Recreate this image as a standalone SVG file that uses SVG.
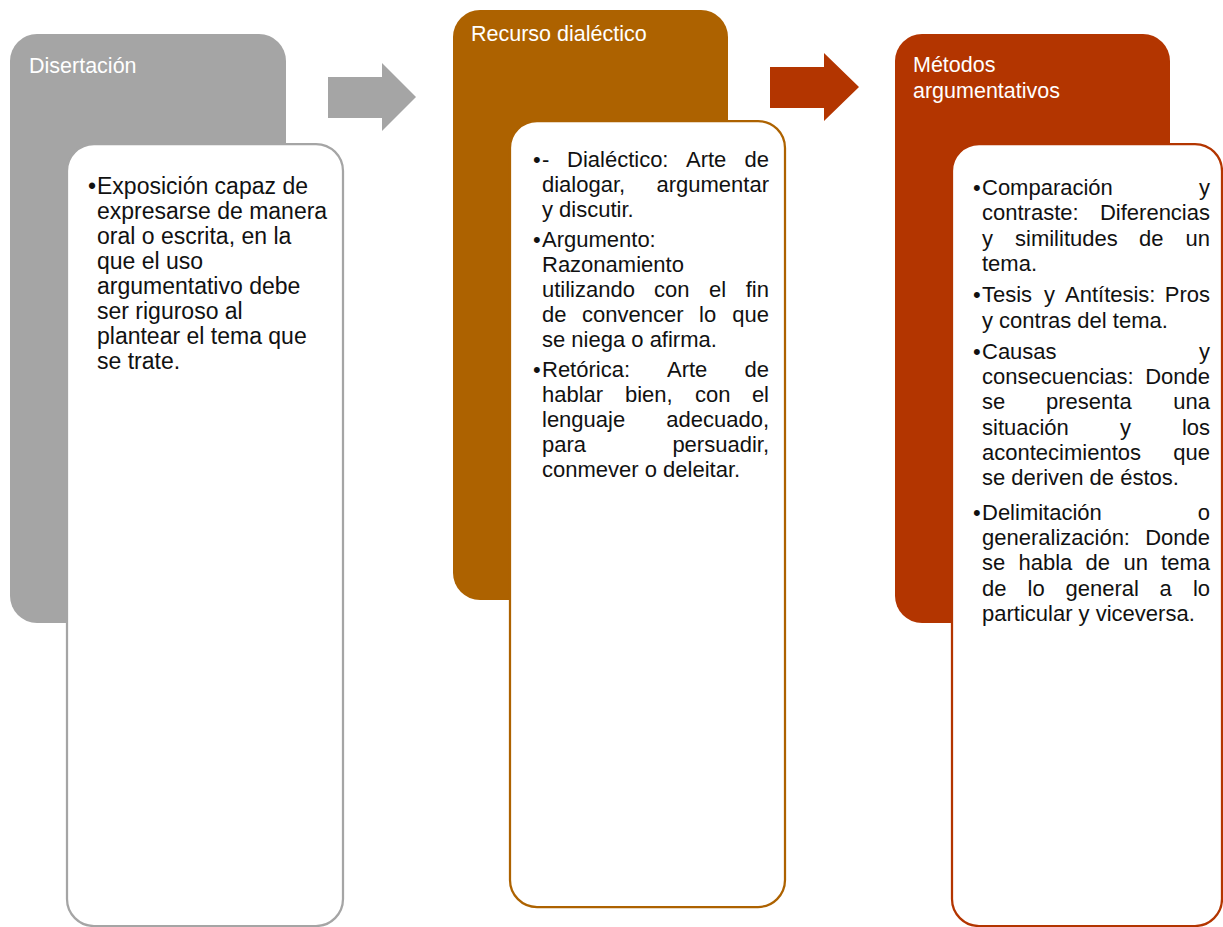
<svg xmlns="http://www.w3.org/2000/svg" width="1223" height="927" viewBox="0 0 1223 927">
<style>
.title{font-family:"Liberation Sans",Arial,sans-serif;font-size:21.5px;fill:#ffffff}
.body{font-family:"Liberation Sans",Arial,sans-serif;font-size:22px;fill:#111111}
.big{font-size:23px}
.e{text-anchor:end}
.inner{fill:#ffffff;stroke-width:2.25}
</style>
<rect width="1223" height="927" fill="#ffffff"/>
<g id="connectors">
<polygon points="328,77 382,77 382,63 416,97 382,131 382,118 328,118" fill="#A5A5A5"/>
<polygon points="770,67 824,67 824,53 859,87 824,121 824,108 770,108" fill="#B33500"/>
</g>
<g id="node-disertacion">
<rect x="10" y="34" width="276" height="589" rx="27" fill="#A5A5A5"/>
<text class="title" x="29" y="73">Disertación</text>
</g>
<g id="node-disertacion-detail">
<rect class="inner" x="67" y="144" width="276" height="782" rx="27" stroke="#A5A5A5"/>
<text class="body big">
<tspan x="88" y="194">•</tspan><tspan x="97" y="194">Exposición capaz de</tspan>
<tspan x="97" y="219">expresarse de manera</tspan>
<tspan x="97" y="244">oral o escrita, en la</tspan>
<tspan x="97" y="269">que el uso</tspan>
<tspan x="97" y="294">argumentativo debe</tspan>
<tspan x="97" y="319">ser riguroso al</tspan>
<tspan x="97" y="344">plantear el tema que</tspan>
<tspan x="97" y="369">se trate.</tspan>
</text>
</g>
<g id="node-recurso">
<rect x="453" y="10" width="275" height="590" rx="27" fill="#AD6200"/>
<text class="title" x="471" y="41">Recurso dialéctico</text>
</g>
<g id="node-recurso-detail">
<rect class="inner" x="510" y="121" width="275" height="786" rx="27" stroke="#AD6200"/>
<g class="body">
<text x="533" y="167">•</text>
<text x="542" y="167">-</text><text x="567" y="167">Dialéctico:</text><text x="686" y="167">Arte</text><text class="e" x="769" y="167">de</text>
<text x="542" y="192">dialogar,</text><text class="e" x="769" y="192">argumentar</text>
<text x="542" y="217">y discutir.</text>
<text x="533" y="247">•</text><text x="542" y="247">Argumento:</text>
<text x="542" y="272">Razonamiento</text>
<text x="542" y="297">utilizando</text><text x="654" y="297">con</text><text x="709" y="297">el</text><text class="e" x="769" y="297">fin</text>
<text x="542" y="322">de</text><text x="582" y="322">convencer</text><text x="699" y="322">lo</text><text class="e" x="769" y="322">que</text>
<text x="542" y="347">se niega o afirma.</text>
<text x="533" y="377">•</text><text x="542" y="377">Retórica:</text><text x="667" y="377">Arte</text><text class="e" x="769" y="377">de</text>
<text x="542" y="402">hablar</text><text x="625" y="402">bien,</text><text x="695" y="402">con</text><text class="e" x="769" y="402">el</text>
<text x="542" y="427">lenguaje</text><text class="e" x="769" y="427">adecuado,</text>
<text x="542" y="452">para</text><text class="e" x="769" y="452">persuadir,</text>
<text x="542" y="477">conmever o deleitar.</text>
</g>
</g>
<g id="node-metodos">
<rect x="895" y="34" width="275" height="589" rx="27" fill="#B33500"/>
<text class="title" x="913" y="72">Métodos</text>
<text class="title" x="913" y="98">argumentativos</text>
</g>
<g id="node-metodos-detail">
<rect class="inner" x="952" y="144" width="270" height="782" rx="27" stroke="#B33500"/>
<g class="body">
<text x="973" y="195">•</text><text x="982" y="195">Comparación</text><text class="e" x="1210" y="195">y</text>
<text x="982" y="220.3">contraste:</text><text class="e" x="1210" y="220.3">Diferencias</text>
<text x="982" y="245.6">y</text><text x="1015" y="245.6">similitudes</text><text x="1139" y="245.6">de</text><text class="e" x="1210" y="245.6">un</text>
<text x="982" y="270.9">tema.</text>
<text x="973" y="302.2">•</text><text x="982" y="302.2">Tesis</text><text x="1044" y="302.2">y</text><text x="1065" y="302.2">Antítesis:</text><text class="e" x="1210" y="302.2">Pros</text>
<text x="982" y="327.5">y contras del tema.</text>
<text x="973" y="358.8">•</text><text x="982" y="358.8">Causas</text><text class="e" x="1210" y="358.8">y</text>
<text x="982" y="384.1">consecuencias:</text><text class="e" x="1210" y="384.1">Donde</text>
<text x="982" y="409.4">se</text><text x="1046" y="409.4">presenta</text><text class="e" x="1210" y="409.4">una</text>
<text x="982" y="434.7">situación</text><text x="1120" y="434.7">y</text><text class="e" x="1210" y="434.7">los</text>
<text x="982" y="460">acontecimientos</text><text class="e" x="1210" y="460">que</text>
<text x="982" y="485.3">se deriven de éstos.</text>
<text x="973" y="519.6">•</text><text x="982" y="519.6">Delimitación</text><text class="e" x="1210" y="519.6">o</text>
<text x="982" y="544.9">generalización:</text><text class="e" x="1210" y="544.9">Donde</text>
<text x="982" y="570.2">se</text><text x="1018.5" y="570.2">habla</text><text x="1085.5" y="570.2">de</text><text x="1123.5" y="570.2">un</text><text class="e" x="1210" y="570.2">tema</text>
<text x="982" y="595.5">de</text><text x="1027.5" y="595.5">lo</text><text x="1065.5" y="595.5">general</text><text x="1159.5" y="595.5">a</text><text class="e" x="1210" y="595.5">lo</text>
<text x="982" y="620.8">particular y viceversa.</text>
</g>
</g>
</svg>
